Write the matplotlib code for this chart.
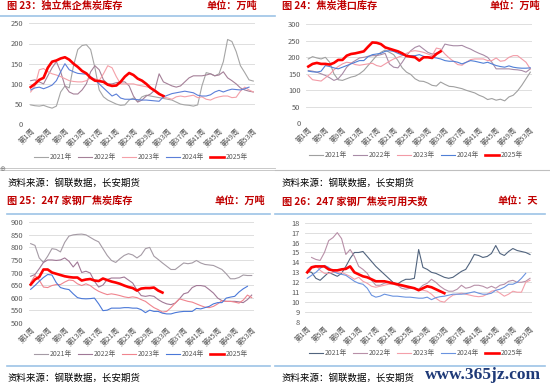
import matplotlib
matplotlib.use("Agg")
import matplotlib.pyplot as plt
import numpy as np
from matplotlib.lines import Line2D

plt.rcParams["font.family"] = ["Noto Sans CJK SC", "DejaVu Sans"]

W, H = 550, 390
nan = np.nan

years = ["2021年", "2022年", "2023年", "2024年", "2025年"]
week_ticks = list(range(1, 54, 4))
week_labels = [f"第{w}周" for w in week_ticks]

# 图23 独立焦企焦炭库存 (万吨)
plant_2021 = [48, 46, 45, 47, 43, 40, 45, 80, 95, 90, 145, 185, 195, 197, 185, 140, 85, 68, 60, 55,
              50, 47, 48, 60, 65, 56, 68, 72, 70, 68, 66, 64, 62, 60, 55, 50, 48, 47, 45, 48,
              95, 128, 125, 120, 125, 155, 210, 205, 180, 145, 128, 110, 107]
plant_2022 = [108, 110, 105, 100, 120, 140, 155, 130, 95, 80, 75, 75, 85, 100, 130, 145, 135, 110, 100, 100,
              103, 105, 105, 95, 70, 55, 60, 70, 75, 85, 125, 105, 100, 95, 92, 95, 105, 115, 120, 120,
              120, 122, 125, 120, 122, 130, 115, 108, 100, 90, 85, 82, 80]
plant_2023 = [80, 95, 135, 138, 130, 125, 122, 118, 113, 108, 106, 105, 105, 108, 115, 113, 108, 125, 145, 140,
              118, 100, 100, 100, 100, 97, 95, 93, 90, 85, 78, 68, 65, 62, 68, 70, 68, 70, 72, 66,
              68, 62, 60, 65, 68, 70, 70, 66, 67, 82, 92, 85, 80]
plant_2024 = [85, 90, 92, 88, 92, 97, 108, 130, 150, 135, 130, 126, 125, 124, 118, 110, 100, 90, 80, 70,
              75, 65, 62, 62, 62, 61, 60, 60, 59, 58, 57, 68, 72, 76, 78, 80, 82, 80, 78, 72,
              70, 70, 73, 80, 84, 80, 84, 87, 86, 85, 88, 92]
plant_2025 = [92, 100, 110, 115, 140, 155, 158, 163, 166, 160, 150, 142, 132, 126, 115, 108, 107, 105, 98, 95,
              96, 105, 118, 127, 122, 113, 108, 100, 90, 83, 75, 70]

# 图24 焦炭港口库存 (万吨)
port_2021 = [195, 202, 198, 195, 200, 185, 150, 132, 130, 135, 140, 143, 150, 160, 175, 190, 205, 215, 222, 215,
             208, 190, 168, 155, 148, 135, 128, 127, 122, 115, 113, 125, 118, 112, 111, 108, 105, 100, 96, 92,
             85, 80, 72, 75, 70, 73, 68, 80, 85, 98, 115, 135, 155]
port_2022 = [160, 158, 155, 150, 145, 138, 130, 135, 150, 170, 182, 190, 198, 200, 203, 205, 205, 208, 212, 180,
             170, 168, 185, 205, 220, 230, 235, 225, 215, 210, 212, 218, 240, 237, 235, 235, 236, 230, 225, 218,
             212, 207, 200, 185, 165, 165, 165, 165, 163, 162, 160, 155, 165]
port_2023 = [145, 132, 130, 128, 138, 148, 162, 172, 180, 185, 183, 178, 176, 178, 180, 182, 175, 172, 180, 188,
             195, 200, 205, 212, 218, 220, 218, 215, 210, 205, 228, 225, 210, 198, 188, 178, 176, 185, 193, 195,
             195, 195, 190, 190, 198, 188, 190, 200, 205, 205, 195, 185, 165]
port_2024 = [158, 156, 155, 158, 175, 172, 168, 165, 170, 175, 180, 185, 190, 190, 202, 208, 210, 212, 218, 220,
             218, 212, 207, 205, 205, 205, 208, 203, 200, 200, 198, 195, 190, 188, 188, 185, 180, 185, 190, 188,
             185, 182, 185, 180, 175, 172, 170, 174, 170, 168, 167, 167, 168]
port_2025 = [172, 180, 183, 180, 180, 178, 183, 192, 192, 205, 210, 212, 215, 218, 232, 245, 244, 240, 230, 226,
             222, 218, 212, 204, 202, 200, 190, 200, 200, 198, 210, 218]

# 图25 247家钢厂焦炭库存 (万吨)
mill_2021 = [815, 808, 758, 740, 765, 795, 792, 782, 820, 845, 850, 852, 853, 850, 840, 830, 822, 795, 768, 748,
             740, 755, 768, 775, 770, 758, 770, 795, 800, 765, 752, 738, 725, 712, 712, 725, 738, 735, 738, 748,
             738, 732, 730, 728, 720, 712, 695, 675, 675, 680, 690, 688, 688]
mill_2022 = [685, 692, 715, 740, 750, 750, 748, 750, 758, 745, 722, 742, 700, 705, 698, 665, 642, 650, 672, 678,
             678, 678, 682, 670, 658, 630, 608, 605, 608, 605, 592, 582, 575, 572, 578, 595, 615, 620, 640, 648,
             648, 645, 632, 618, 598, 588, 585, 585, 585, 583, 580, 592, 610]
mill_2023 = [660, 688, 670, 642, 640, 648, 652, 652, 662, 670, 668, 655, 648, 655, 648, 635, 625, 618, 612, 615,
             612, 608, 603, 600, 603, 600, 592, 585, 572, 560, 552, 542, 545, 560, 578, 595, 590, 585, 582, 575,
             568, 562, 560, 565, 575, 588, 585, 585, 582, 578, 590, 610, 600]
mill_2024 = [633, 648, 665, 680, 692, 690, 660, 640, 635, 632, 615, 600, 596, 595, 596, 598, 575, 548, 550, 558,
             558, 558, 560, 560, 558, 558, 552, 540, 550, 545, 545, 538, 535, 535, 540, 543, 545, 545, 545, 557,
             555, 560, 565, 575, 580, 580, 598, 602, 605, 622, 635, 645]
mill_2025 = [652, 672, 682, 712, 712, 700, 695, 690, 685, 682, 680, 680, 668, 672, 674, 668, 666, 676, 670, 664,
             660, 655, 648, 642, 638, 628, 636, 638, 638, 640, 628, 620]

# 图26 247家钢厂焦炭可用天数 (天)
days_2021 = [13.1, 13.0, 12.4, 12.2, 12.6, 13.0, 12.8, 12.6, 12.9, 13.6, 14.4, 15.0, 15.0, 15.1, 14.6, 14.1, 13.6,
             13.2, 12.8, 12.4, 12.0, 11.8, 12.1, 12.3, 12.3, 12.4, 15.3, 13.5, 13.3, 13.0, 12.9, 12.7, 12.5, 12.4,
             12.5, 12.8, 13.1, 13.3, 14.0, 14.8, 14.7, 14.5, 14.6, 14.9, 15.7, 14.9, 14.7, 15.1, 15.4, 15.2, 15.1,
             15.0, 14.8]
days_2022 = [nan, 14.5, 14.3, 14.2, 15.0, 16.2, 16.5, 17.0, 16.4, 14.8, 15.3, 14.6, 13.6, 13.3, 12.9, 12.2, 11.7,
             11.7, 11.9, 12.0, 11.9, 11.7, 11.4, 11.3, 11.4, 11.4, 11.3, 11.7, 11.9, 12.3, 12.0, 11.6, 11.3, 11.1,
             11.1, 11.3, 11.7, 11.4, 11.5, 11.7, 11.7, 11.6, 11.4, 11.6, 11.4, 11.7, 11.8, 12.1, 12.2, 12.0, 12.0,
             12.1, 12.4]
days_2023 = [13.2, 13.6, 13.7, 13.2, 12.9, 12.9, 13.0, 13.0, 13.0, 12.8, 12.6, 12.3, 12.5, 12.1, 11.9, 11.6, 11.5,
             11.6, 11.7, 11.8, 11.8, 11.7, 11.6, 11.5, 11.5, 11.4, 11.3, 11.2, 11.1, 10.8, 10.4, 10.1, 10.0, 10.4,
             10.7, 10.8, 10.9, 10.8, 10.7, 10.6, 10.55, 10.6, 10.8, 11.1, 11.2, 10.9, 10.6, 10.8, 11.1, 11.0, 11.0,
             12.0, 12.2]
days_2024 = [12.4, 12.7, 13.0, 13.4, 13.7, 13.5, 13.1, 12.9, 12.8, 12.7, 12.4, 12.1, 11.9, 11.8, 11.4, 10.7, 10.5,
             10.6, 10.8, 10.7, 10.6, 10.6, 10.55, 10.5, 10.5, 10.45, 10.4, 10.4, 10.5, 10.25, 10.45, 10.55, 10.6,
             10.7, 10.8, 10.8, 10.8, 10.85, 10.95, 11.05, 10.9, 10.8, 10.8, 10.9, 11.2, 11.3, 11.5, 11.8, 11.8,
             12.0, 12.4, 12.9]
days_2025 = [13.0, 13.5, 13.6, 13.6, 13.6, 13.3, 13.2, 13.2, 13.3, 13.35, 13.6, 13.0, 12.8, 12.6, 12.5, 12.3, 12.1,
             12.1, 12.1, 12.0, 11.9, 11.8, 11.7, 11.6, 11.5, 11.4, 11.2, 11.4, 11.6, 11.5, 11.3, 11.1, 10.9]

TITLE_RED = "#C00000"
HEAD_BLUE = "#9DC3E6"


def fx(x):
    return x / W


def fy(y):
    return 1 - y / H


def hline(fig, x0, x1, y, color, lw=1.0):
    fig.add_artist(Line2D([fx(x0), fx(x1)], [fy(y), fy(y)], color=color, lw=lw,
                          transform=fig.transFigure))


def panel(fig, ox, oy, title, unit, series, colors, ylim, ystep,
          wk1, wk53, ytop, ybot, unit_right, leg_y):
    # header
    fig.text(fx(ox + 7), fy(oy + 6), title, fontsize=7.3, fontweight="bold",
             color=TITLE_RED, va="center", ha="left")
    fig.text(fx(unit_right), fy(oy + 6), unit, fontsize=7.3, fontweight="bold",
             color=TITLE_RED, va="center", ha="right")

    # axes placed so week 1 / week 53 and the y limits land on the measured pixels
    pw = (wk53 - wk1) / 52
    left = wk1 - 0.5 * pw
    right = wk53 + 0.5 * pw
    ax = fig.add_axes([fx(left), fy(ybot), (right - left) / W, (ybot - ytop) / H])
    for vals, c, yr in zip(series, colors, years):
        vals = np.asarray(vals, dtype=float)
        wk = np.arange(1, len(vals) + 1)
        lw = 1.9 if yr == "2025年" else 0.8
        ax.plot(wk, vals, color=c, lw=lw, label=yr, zorder=3 if yr == "2025年" else 2)
    ax.set_xlim(0.5, 53.5)
    ax.set_ylim(*ylim)
    ax.set_yticks(np.arange(ylim[0], ylim[1] + ystep / 2, ystep))
    ax.set_xticks(week_ticks)
    ax.set_xticklabels(week_labels, rotation=45, ha="right", rotation_mode="anchor",
                       fontsize=5.3, color="#595959")
    ax.tick_params(axis="y", labelsize=5.4, labelcolor="#595959", length=0, pad=4)
    ax.tick_params(axis="x", length=0, pad=2)
    ax.grid(axis="y", color="#D9D9D9", lw=0.6)
    ax.set_axisbelow(True)
    for s in ax.spines.values():
        s.set_visible(False)

    handles, labels = ax.get_legend_handles_labels()
    fig.legend(handles, labels, loc="center", bbox_to_anchor=(fx(ox + 141), fy(leg_y)),
               ncol=5, frameon=False, fontsize=4.9, handlelength=2.0, columnspacing=0.9,
               handletextpad=0.3, labelcolor="#595959")

    fig.text(fx(ox + 7), fy(oy + 183), "资料来源：钢联数据，长安期货", fontsize=6.8,
             color="#000000", va="center", ha="left")
    return ax


fig = plt.figure(figsize=(W / 100, H / 100), dpi=100)
fig.patch.set_facecolor("white")

# top-left
hline(fig, 0, 275, 16, HEAD_BLUE, 1.2)
panel(fig, 0, 0, "图 23：独立焦企焦炭库存", "单位：万吨",
      [plant_2021, plant_2022, plant_2023, plant_2024, plant_2025],
      ["#A5A5A5", "#A58098", "#F4A0A8", "#5B7FD8", "#FF0000"],
      (0, 250), 50, 30.7, 253.3, 23.3, 124.3, 257, 157)
hline(fig, 0, 275, 168.3, "#BFBFBF", 0.6)
hline(fig, 0, 275, 170.3, "#BFBFBF", 0.6)
fig.text(fx(2.5), fy(169.3), "⊕", fontsize=5, color="#7F7F7F", ha="center", va="center",
         family="DejaVu Sans")

# top-right
panel(fig, 275, 0, "图 24：焦炭港口库存", "单位：万吨",
      [port_2021, port_2022, port_2023, port_2024, port_2025],
      ["#A0A0A0", "#A88BA6", "#F29AA6", "#4F7FD6", "#FF0000"],
      (0, 300), 50, 308.3, 530.3, 24.3, 123.3, 540, 155)
hline(fig, 275, 550, 170, "#BFBFBF", 0.8)

# bottom-left
hline(fig, 7, 270, 214, HEAD_BLUE, 1.2)
panel(fig, 0, 195, "图 25：247 家钢厂焦炭库存", "单位：万吨",
      [mill_2021, mill_2022, mill_2023, mill_2024, mill_2025],
      ["#A59BA5", "#A07896", "#F0848E", "#4A78D8", "#FF0000"],
      (500, 900), 50, 30.7, 251.7, 222.3, 322.7, 265, 354)
hline(fig, 7, 270, 365.7, HEAD_BLUE, 1.2)

# bottom-right
hline(fig, 275, 545, 214, HEAD_BLUE, 1.2)
panel(fig, 275, 195, "图 26：247 家钢厂焦炭可用天数", "单位：天",
      [days_2021, days_2022, days_2023, days_2024, days_2025],
      ["#51647E", "#B890A8", "#F4A0AA", "#6A93E0", "#FF0000"],
      (8, 18), 1, 307.3, 530.0, 222.7, 322.0, 538, 353)
hline(fig, 275, 545, 365.7, HEAD_BLUE, 1.2)

fig.text(fx(483), fy(375), "www.365jz.com", fontsize=12.5, fontweight="bold",
         family="Liberation Serif", color="#1F3A78", ha="center", va="center")

fig.savefig("out.png", dpi=100)
plt.close(fig)
